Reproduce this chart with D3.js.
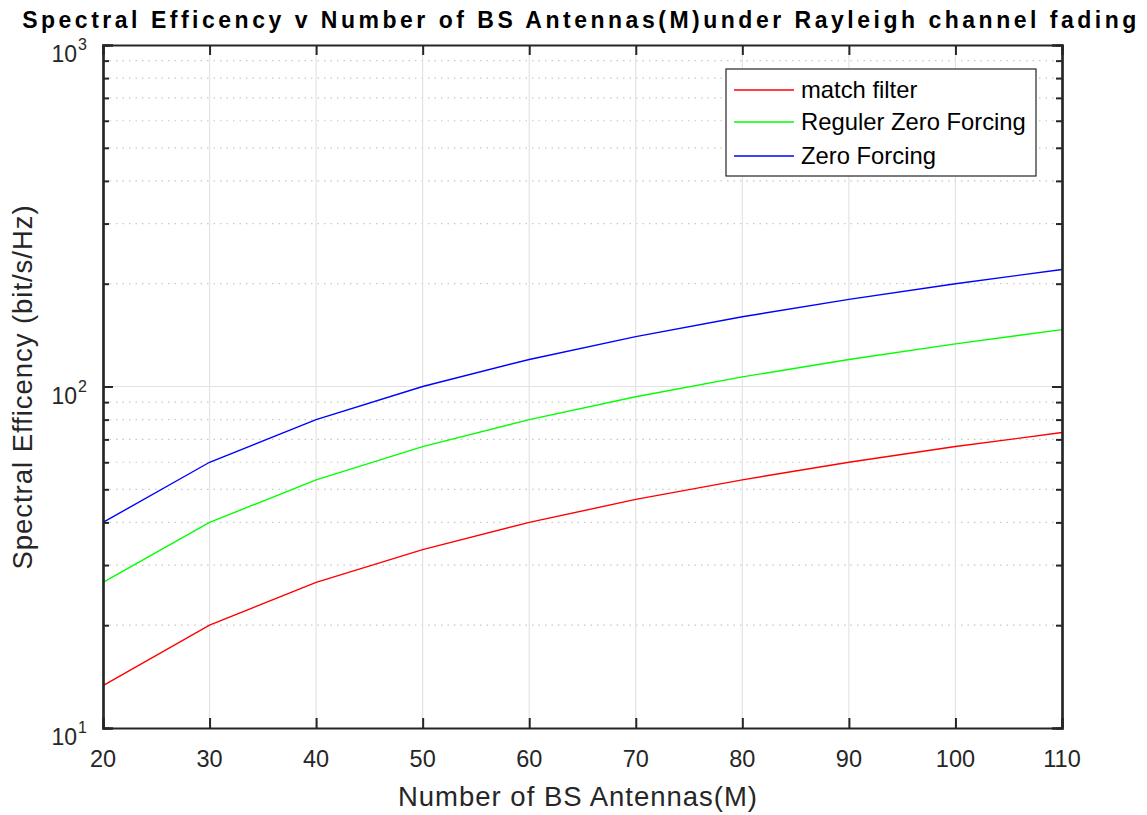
<!DOCTYPE html>
<html><head><meta charset="utf-8">
<script src="https://cdn.jsdelivr.net/npm/d3@7"></script>
<style>body{margin:0;background:#fff}svg{display:block}text{font-family:"Liberation Sans",Arial,Helvetica,sans-serif;fill:#262626}</style>
</head><body><svg id="c" width="1147" height="815"></svg>
<script>
const antennas = [20,30,40,50,60,70,80,90,100,110];
const matchFilter = [13.3,20,26.7,33.3,40,46.7,53.3,60,66.7,73.3];
const regZF = [26.7,40,53.3,66.7,80,93.3,106.7,120,133.3,146.7];
const zeroForcing = [40,60,80,100,120,140,160,180,200,220];
const seriesNames = ["match filter","Reguler Zero Forcing","Zero Forcing"];
const seriesColors = ["#ff0000","#00ff00","#0000ff"];
const xTicks = [20,30,40,50,60,70,80,90,100,110];
const yMajor = [10,100,1000];
const yMajorExp = ["1","2","3"];
const titleText = "Spectral Efficency v Number of BS Antennas(M)under Rayleigh channel fading";
const xLabel = "Number of BS Antennas(M)";
const yLabel = "Spectral Efficency (bit/s/Hz)";

const svg = d3.select("#c");
const L=103,R=1062,T=45,B=728;
const x = d3.scaleLinear().domain([20,110]).range([L,R]);
const y = d3.scaleLog().domain([10,1000]).range([B,T]);
const minor = [];
for (const d of [10,100]) for (let k=2;k<=9;k++) minor.push(d*k);

function fit(sel, target){
  const n = sel.text().length;
  const len = sel.node().getComputedTextLength();
  sel.attr("letter-spacing", ((target-len)/n).toFixed(2));
  return sel;
}

const g = svg.append("g");
// grid
g.selectAll(".ym").data(minor).enter().append("line")
 .attr("x1",L).attr("x2",R).attr("y1",d=>y(d)).attr("y2",d=>y(d))
 .attr("stroke","#c8c8c8").attr("stroke-width",1.2).attr("stroke-dasharray","1.5,5");
g.selectAll(".xg").data(xTicks.slice(1,-1)).enter().append("line")
 .attr("x1",d=>x(d)).attr("x2",d=>x(d)).attr("y1",T).attr("y2",B)
 .attr("stroke","#e3e3e3").attr("stroke-width",1.2);
g.selectAll(".yg").data([100]).enter().append("line")
 .attr("x1",L).attr("x2",R).attr("y1",d=>y(d)).attr("y2",d=>y(d))
 .attr("stroke","#e3e3e3").attr("stroke-width",1.2);

// lines
const data = [matchFilter,regZF,zeroForcing];
const line = d3.line().x((d,i)=>x(antennas[i])).y(d=>y(d));
data.forEach((s,i)=>{
  g.append("path").datum(s).attr("d",line).attr("fill","none")
   .attr("stroke",seriesColors[i]).attr("stroke-width",1.4);
});

// axes (box with inward ticks)
const ax = "#262626";
const xb = d3.axisBottom(x).tickValues(xTicks).tickSize(-10).tickFormat("");
const xt = d3.axisTop(x).tickValues(xTicks).tickSize(-10).tickFormat("");
g.append("g").attr("transform",`translate(0,${B})`).call(xb);
g.append("g").attr("transform",`translate(0,${T})`).call(xt);
const yl = d3.axisLeft(y).tickValues(yMajor).tickSize(-10).tickFormat("");
const yr = d3.axisRight(y).tickValues(yMajor).tickSize(-10).tickFormat("");
const ylm = d3.axisLeft(y).tickValues(minor).tickSize(-6).tickFormat("");
const yrm = d3.axisRight(y).tickValues(minor).tickSize(-6).tickFormat("");
g.append("g").attr("transform",`translate(${L},0)`).call(yl);
g.append("g").attr("transform",`translate(${R},0)`).call(yr);
g.append("g").attr("transform",`translate(${L},0)`).call(ylm);
g.append("g").attr("transform",`translate(${R},0)`).call(yrm);
g.selectAll(".domain").attr("stroke",ax).attr("stroke-width",2.2);
g.selectAll(".tick line").attr("stroke",ax).attr("stroke-width",2);

// x tick labels
g.selectAll(".xl").data(xTicks).enter().append("text")
 .attr("x",d=>x(d)).attr("y",767).attr("text-anchor","middle")
 .attr("font-size",23.5).text(d=>d);
// y tick labels
yMajor.forEach((v,i)=>{
  g.append("text").attr("x",77).attr("y",y(v)+17).attr("text-anchor","end")
   .attr("font-size",23).text("10");
  g.append("text").attr("x",78).attr("y",y(v)+5).attr("text-anchor","start")
   .attr("font-size",16).text(yMajorExp[i]);
});

// labels
fit(svg.append("text").attr("x",578).attr("y",806).attr("text-anchor","middle")
 .attr("font-size",27.5).text(xLabel), 360);
fit(svg.append("text").attr("transform",`translate(32,387) rotate(-90)`)
 .attr("text-anchor","middle").attr("font-size",27.5).text(yLabel), 365);
fit(svg.append("text").attr("x",581).attr("y",28).attr("text-anchor","middle")
 .attr("font-size",23).attr("font-weight","bold").style("fill","#000").text(titleText), 1118);

// legend
const lg = svg.append("g");
lg.append("rect").attr("x",726).attr("y",69).attr("width",310).attr("height",107)
 .attr("fill","#fff").attr("stroke",ax).attr("stroke-width",1.2);
const ly = [90,122,156];
seriesNames.forEach((n,i)=>{
  lg.append("line").attr("x1",734).attr("x2",794).attr("y1",ly[i]).attr("y2",ly[i])
   .attr("stroke",seriesColors[i]).attr("stroke-width",1.4);
  lg.append("text").attr("x",801).attr("y",ly[i]+8).attr("font-size",23.8).style("fill","#000").text(n);
});
</script></body></html>
